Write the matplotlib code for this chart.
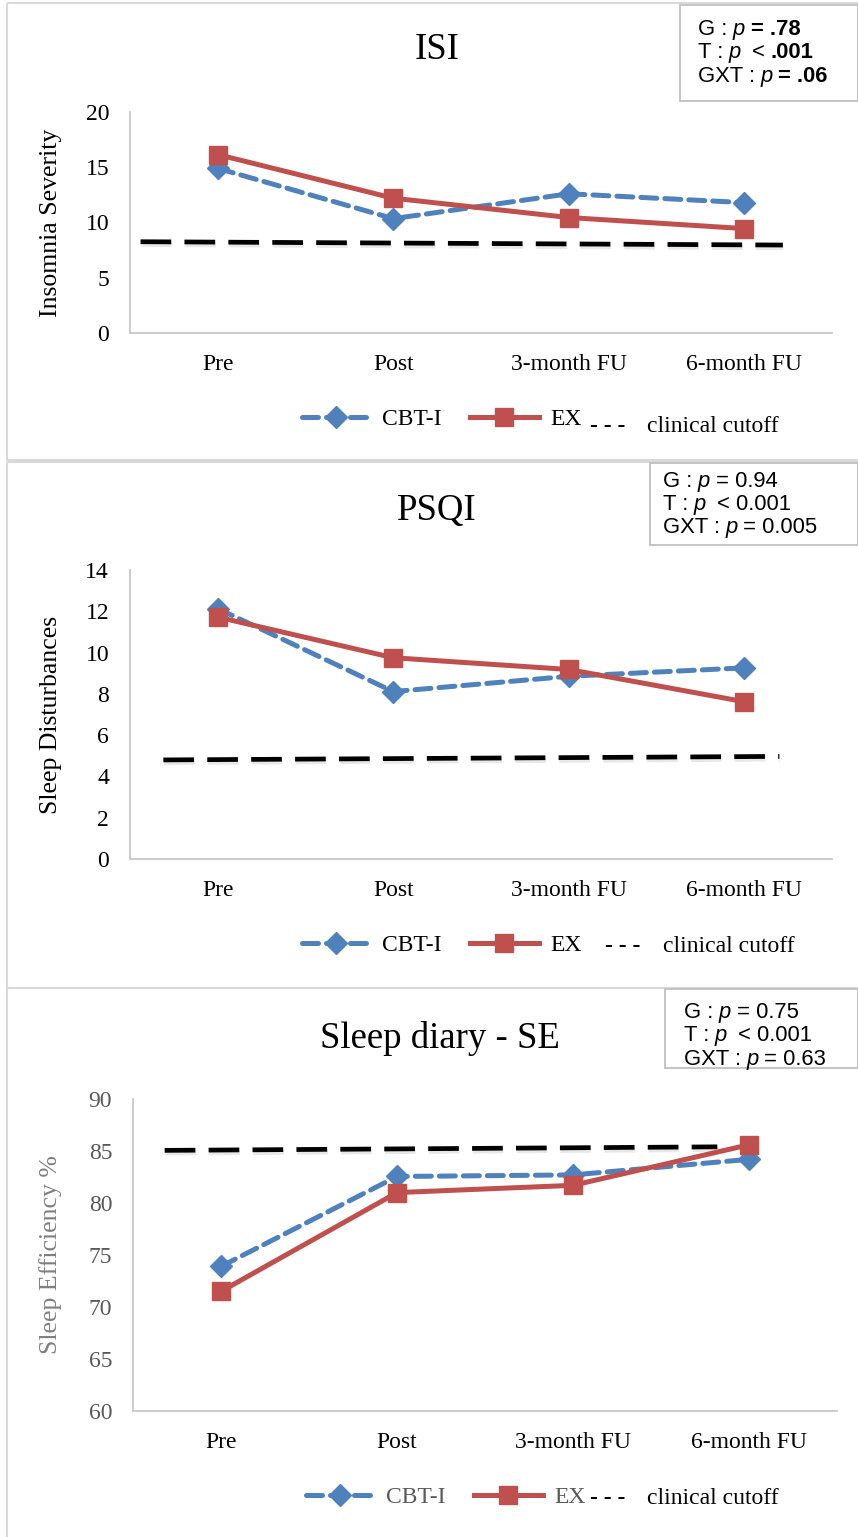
import matplotlib as mpl
import matplotlib.pyplot as plt
import matplotlib.patheffects as pe
from matplotlib.patches import Rectangle

# ----------------------------------------------
# Data
# ----------------------------------------------
timepoints = ["Pre", "Post", "3-month FU", "6-month FU"]

isi_cbti = [14.9, 10.35, 12.6, 11.8]
isi_ex = [16.15, 12.2, 10.45, 9.45]
isi_cut_x = [-0.44, 3.22]
isi_cut_y = [8.26, 7.96]
isi_ticks = [0, 5, 10, 15, 20]
isi_stats = [
    [("G :", "normal", "normal", 0), ("p", "normal", "italic", 4), ("= .78", "bold", "normal", 4)],
    [("T :", "normal", "normal", 0), ("p", "normal", "italic", 4), ("<", "normal", "normal", 8), (".001", "bold", "normal", 4)],
    [("GXT :", "normal", "normal", 0), ("p", "normal", "italic", 4), ("= .06", "bold", "normal", 4)],
]

psqi_cbti = [12.13, 8.11, 8.85, 9.26]
psqi_ex = [11.72, 9.75, 9.18, 7.62]
psqi_cut_x = [-0.31, 3.2]
psqi_cut_y = [4.8, 4.97]
psqi_ticks = [0, 2, 4, 6, 8, 10, 12, 14]
psqi_stats = [
    [("G :", "normal", "normal", 0), ("p", "normal", "italic", 4), ("= 0.94", "normal", "normal", 4)],
    [("T :", "normal", "normal", 0), ("p", "normal", "italic", 4), ("< 0.001", "normal", "normal", 8)],
    [("GXT :", "normal", "normal", 0), ("p", "normal", "italic", 4), ("= 0.005", "normal", "normal", 4)],
]

se_cbti = [73.9, 82.55, 82.7, 84.2]
se_ex = [71.5, 81.0, 81.7, 85.6]
se_cut_x = [-0.32, 2.82]
se_cut_y = [85.06, 85.4]
se_ticks = [60, 65, 70, 75, 80, 85, 90]
se_stats = [
    [("G :", "normal", "normal", 0), ("p", "normal", "italic", 4), ("= 0.75", "normal", "normal", 4)],
    [("T :", "normal", "normal", 0), ("p", "normal", "italic", 4), ("< 0.001", "normal", "normal", 8)],
    [("GXT :", "normal", "normal", 0), ("p", "normal", "italic", 4), ("= 0.63", "normal", "normal", 4)],
]

# ----------------------------------------------
# Style
# ----------------------------------------------
BLUE = "#4F81BD"
RED = "#C0504D"
GRID_GRAY = "#c8c8c8"
SERIF = "Liberation Serif"
SANS = "Liberation Sans"
mpl.rcParams["font.family"] = SERIF

W, H = 858, 1537
fig = plt.figure(figsize=(W / 100, H / 100), dpi=100)
overlay = fig.add_axes([0, 0, 1, 1], zorder=-1)
overlay.set_xlim(0, W)
overlay.set_ylim(H, 0)
overlay.axis("off")


def fx(px):
    return px / W


def fy(py):
    return 1 - py / H


panels = [
    dict(cbti=isi_cbti, ex=isi_ex, cut_x=isi_cut_x, cut_y=isi_cut_y, ticks=isi_ticks,
         stats=isi_stats, title="ISI", ylabel="Insomnia Severity",
         frame=(7, 3, 860, 460), ax=(130, 112, 832, 333), title_xy=(437, 50),
         box=(680, 5, 858, 101), stat_x=698, stat_y=[35, 58, 82],
         leg_x=302, leg_y=419, dash_x=590, cut_text_x=647, cut_y_px=427, gray=False),
    dict(cbti=psqi_cbti, ex=psqi_ex, cut_x=psqi_cut_x, cut_y=psqi_cut_y, ticks=psqi_ticks,
         stats=psqi_stats, title="PSQI", ylabel="Sleep Disturbances",
         frame=(7, 462, 860, 988), ax=(130, 570, 832, 859), title_xy=(437, 511),
         box=(650, 463, 858, 545), stat_x=663, stat_y=[487, 510, 533],
         leg_x=302, leg_y=945, dash_x=605, cut_text_x=663, cut_y_px=947, gray=False),
    dict(cbti=se_cbti, ex=se_ex, cut_x=se_cut_x, cut_y=se_cut_y, ticks=se_ticks,
         stats=se_stats, title="Sleep diary - SE", ylabel="Sleep Efficiency %",
         frame=(7, 988, 860, 1540), ax=(133, 1099, 837, 1411), title_xy=(440, 1038),
         box=(665, 989, 858, 1068), stat_x=684, stat_y=[1018, 1041, 1065],
         leg_x=306, leg_y=1497, dash_x=590, cut_text_x=647, cut_y_px=1499, gray=True),
]

for p in panels:
    # outer panel frame
    x0, y0, x1, y1 = p["frame"]
    overlay.add_patch(Rectangle((x0, y0), x1 - x0, y1 - y0, fill=False,
                                edgecolor="#d9d9d9", linewidth=1.5))

    l, t, r, b = p["ax"]
    ax = fig.add_axes([fx(l), fy(b), (r - l) / W, (b - t) / H])
    xs = range(len(timepoints))

    cut = ax.plot(p["cut_x"], p["cut_y"], color="black", linewidth=3.4,
                  dashes=(6.5, 2.8), solid_capstyle="butt", zorder=2)[0]
    cut.set_path_effects([pe.SimpleLineShadow(offset=(0.5, -2), shadow_color="gray",
                                              alpha=0.18), pe.Normal()])
    (l_cbti,) = ax.plot(xs, p["cbti"], color=BLUE, linewidth=3.6, dashes=(3.2, 1.6),
                        dash_capstyle="round", marker="D", markersize=11.5,
                        label="CBT-I", zorder=3)
    (l_ex,) = ax.plot(xs, p["ex"], color=RED, linewidth=3.6, marker="s",
                      markersize=13, label="EX", zorder=4)

    ax.set_xlim(-0.5, len(timepoints) - 0.5)
    ax.set_ylim(p["ticks"][0], p["ticks"][-1])
    ax.set_yticks(p["ticks"])
    ax.set_xticks(list(xs))
    ax.set_xticklabels(timepoints)
    ax.tick_params(axis="both", length=0, labelsize=17)
    ax.tick_params(axis="y", pad=15)
    ax.tick_params(axis="x", pad=15)
    for side in ["top", "right"]:
        ax.spines[side].set_visible(False)
    for side in ["left", "bottom"]:
        ax.spines[side].set_color(GRID_GRAY)
        ax.spines[side].set_linewidth(1.3)
    ax.patch.set_alpha(0)

    lab_color = "#7f7f7f" if p["gray"] else "black"
    tick_color = "#595959" if p["gray"] else "black"
    ax.set_ylabel(p["ylabel"], fontsize=18.5, color=lab_color)
    ax.yaxis.set_label_coords((62 - l) / (r - l), 0.5)
    for lab in ax.get_yticklabels():
        lab.set_color(tick_color)

    # title
    overlay.text(p["title_xy"][0], p["title_xy"][1], p["title"], fontsize=26.5,
                 ha="center", va="center")

    # stats box
    bx0, by0, bx1, by1 = p["box"]
    overlay.add_patch(Rectangle((bx0, by0), bx1 - bx0, by1 - by0, facecolor="white",
                                edgecolor="#bfbfbf", linewidth=1.3, zorder=5))
    for line, yb in zip(p["stats"], p["stat_y"]):
        prev = None
        for s, weight, style, gap in line:
            if prev is None:
                prev = overlay.text(p["stat_x"], yb, s, fontsize=15.8, family=SANS,
                                    fontweight=weight, style=style, va="baseline",
                                    ha="left", zorder=6)
            else:
                prev = overlay.annotate(s, xy=(1, 0), xycoords=prev, xytext=(gap, 0),
                                        textcoords="offset points", fontsize=15.8,
                                        family=SANS, fontweight=weight, style=style,
                                        va="bottom", ha="left", zorder=6)

    # legend
    leg = ax.legend(handles=[l_cbti, l_ex], loc="center left",
                    bbox_to_anchor=(fx(p["leg_x"]), fy(p["leg_y"])),
                    bbox_transform=fig.transFigure, ncol=2, frameon=False,
                    fontsize=17, handlelength=2.9, handletextpad=0.5,
                    columnspacing=1.2, borderpad=0, borderaxespad=0)
    for txt in leg.get_texts():
        txt.set_color(tick_color)
    overlay.text(p["dash_x"], p["cut_y_px"], "- - -", fontsize=17, fontweight="bold",
                 ha="left", va="center")
    overlay.text(p["cut_text_x"], p["cut_y_px"], "clinical cutoff", fontsize=17,
                 ha="left", va="center")

plt.savefig("out.png", dpi=100)
